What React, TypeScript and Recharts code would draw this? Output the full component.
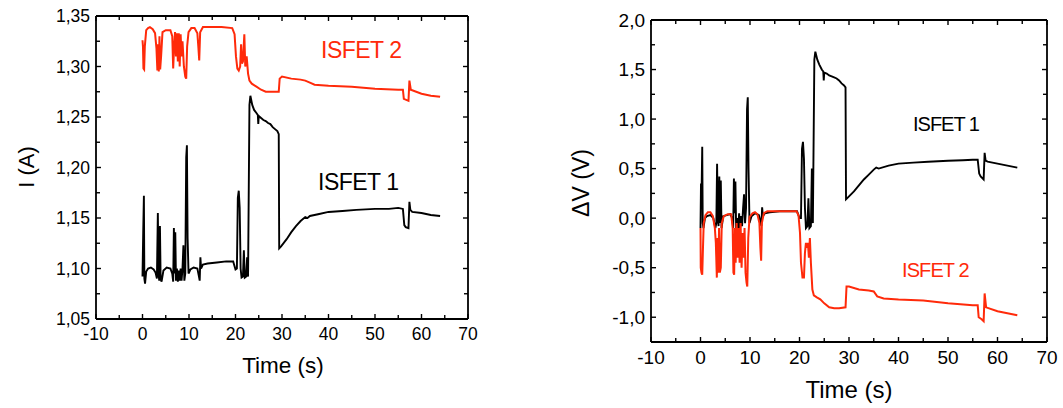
import React from 'react';
import { LineChart, Line, XAxis, YAxis } from 'recharts';

type Pt = [number, number];

const FONT = '"Liberation Sans", Arial, Helvetica, sans-serif';
const RED = '#ff2a0a';

// tick positions (minor ticks sit between the labelled ones)
const timeTicks = [-10, -5, 0, 5, 10, 15, 20, 25, 30, 35, 40, 45, 50, 55, 60, 65, 70];
const currentTicks = [1.05, 1.075, 1.1, 1.125, 1.15, 1.175, 1.2, 1.225, 1.25, 1.275, 1.3, 1.325, 1.35];
const voltageTicks = [-1.25, -1, -0.75, -0.5, -0.25, 0, 0.25, 0.5, 0.75, 1, 1.25, 1.5, 1.75, 2];

// left panel: I (A) vs time (s)
const isfet1Current: Pt[] = [
  [0, 1.092], [0.15, 1.135], [0.3, 1.172], [0.4, 1.09], [0.55, 1.085], [0.8, 1.097], [1.2, 1.1], [1.8, 1.101],
  [2.4, 1.099], [2.8, 1.096], [3.1, 1.09], [3.3, 1.155], [3.45, 1.095], [3.6, 1.088], [3.75, 1.142], [3.9, 1.09],
  [4.1, 1.087], [4.5, 1.098], [5.2, 1.101], [6.0, 1.1], [6.4, 1.095], [6.6, 1.087], [6.75, 1.14], [6.9, 1.095],
  [7.05, 1.136], [7.2, 1.088], [7.4, 1.1], [7.6, 1.087], [7.8, 1.098], [8.0, 1.088], [8.2, 1.1], [8.4, 1.088],
  [8.6, 1.1], [8.8, 1.123], [9.0, 1.088], [9.2, 1.095], [9.4, 1.21], [9.55, 1.222], [9.7, 1.13], [9.9, 1.095],
  [10.3, 1.099], [11.0, 1.101], [11.8, 1.1], [12.1, 1.093], [12.3, 1.088], [12.45, 1.111], [12.6, 1.1], [13.0, 1.104],
  [14.0, 1.105], [16.0, 1.106], [18.0, 1.107], [19.5, 1.107], [20.0, 1.099], [20.3, 1.1], [20.5, 1.17], [20.7, 1.177],
  [20.9, 1.16], [21.1, 1.1], [21.3, 1.091], [21.6, 1.092], [21.8, 1.118], [22.0, 1.091], [22.3, 1.092], [22.5, 1.111],
  [22.7, 1.092], [23.0, 1.262], [23.2, 1.271], [23.6, 1.262], [24.0, 1.257], [24.5, 1.254], [24.8, 1.252], [24.9, 1.243],
  [25.0, 1.251], [25.5, 1.249], [26.0, 1.247], [26.5, 1.246], [27.0, 1.244], [27.5, 1.243], [28.0, 1.24], [28.5, 1.238],
  [29.0, 1.236], [29.3, 1.233], [29.4, 1.12], [29.8, 1.122], [31, 1.129], [32, 1.136], [33, 1.142], [34, 1.147],
  [35, 1.151], [35.5, 1.15], [36, 1.152], [38, 1.154], [40, 1.156], [43, 1.157], [46, 1.158], [50, 1.159],
  [53, 1.159], [55, 1.16], [56, 1.159], [56.3, 1.143], [56.6, 1.141], [57.2, 1.14], [57.4, 1.166], [57.6, 1.158],
  [58, 1.156], [60, 1.155], [62, 1.153], [64, 1.152],
];

const isfet2Current: Pt[] = [
  [0, 1.326], [0.1, 1.32], [0.2, 1.298], [0.35, 1.297], [0.5, 1.32], [0.8, 1.336], [1.2, 1.338], [1.6, 1.339],
  [2.2, 1.337], [2.7, 1.333], [3.0, 1.318], [3.2, 1.296], [3.35, 1.322], [3.5, 1.295], [3.65, 1.33], [3.8, 1.297],
  [4.0, 1.31], [4.3, 1.334], [5.0, 1.336], [6.0, 1.336], [6.4, 1.33], [6.6, 1.298], [6.8, 1.32], [7.0, 1.334],
  [7.2, 1.31], [7.4, 1.333], [7.6, 1.305], [7.8, 1.333], [8.0, 1.3], [8.2, 1.332], [8.4, 1.31], [8.6, 1.325],
  [8.9, 1.3], [9.2, 1.29], [9.4, 1.288], [9.6, 1.32], [9.9, 1.334], [10.5, 1.338], [11.2, 1.338], [11.8, 1.333],
  [12.0, 1.32], [12.2, 1.306], [12.4, 1.334], [13.0, 1.339], [15, 1.339], [17, 1.339], [19.3, 1.338], [19.8, 1.332],
  [20.1, 1.31], [20.4, 1.298], [20.7, 1.296], [21.0, 1.3], [21.2, 1.322], [21.4, 1.303], [21.6, 1.305], [21.9, 1.332],
  [22.1, 1.3], [22.4, 1.31], [22.7, 1.293], [23.0, 1.286], [23.5, 1.283], [24.5, 1.28], [25.5, 1.277], [26.5, 1.275],
  [27.5, 1.275], [29.3, 1.275], [29.5, 1.288], [30, 1.29], [32, 1.288], [34, 1.287], [35, 1.286], [36, 1.284],
  [37, 1.282], [40, 1.281], [45, 1.28], [50, 1.278], [55, 1.277], [56, 1.277], [56.2, 1.268], [57.2, 1.266],
  [57.4, 1.286], [57.7, 1.277], [60, 1.273], [62, 1.271], [64, 1.27],
];

// right panel: ΔV (V) vs time (s)
const isfet1Voltage: Pt[] = [
  [0, -0.1], [0.1, 0.35], [0.2, 0.2], [0.35, 0.72], [0.45, -0.05], [0.6, -0.1], [0.9, 0.0], [1.3, 0.02],
  [2.0, 0.03], [2.6, 0.0], [3.0, -0.1], [3.2, -0.05], [3.35, 0.55], [3.5, 0.0], [3.65, -0.08], [3.8, 0.42],
  [3.95, -0.05], [4.1, 0.38], [4.25, -0.1], [4.6, 0.02], [5.3, 0.03], [6.0, 0.04], [6.4, 0.0], [6.6, -0.1],
  [6.75, 0.4], [6.9, 0.05], [7.05, 0.37], [7.2, -0.1], [7.4, 0.0], [7.6, -0.12], [7.8, 0.05], [8.0, -0.1],
  [8.2, 0.02], [8.4, -0.08], [8.6, 0.1], [8.8, 0.24], [9.0, -0.05], [9.2, 0.1], [9.4, 1.1], [9.55, 1.22],
  [9.7, 0.5], [9.9, -0.05], [10.3, 0.02], [11.0, 0.05], [11.8, 0.03], [12.1, -0.03], [12.3, -0.08], [12.45, 0.11],
  [12.6, 0.02], [13.0, 0.05], [14, 0.06], [16, 0.07], [18, 0.07], [19.5, 0.07], [20.0, 0.0], [20.3, 0.0],
  [20.5, 0.7], [20.7, 0.77], [20.9, 0.6], [21.1, 0.1], [21.3, -0.1], [21.6, -0.08], [21.8, 0.2], [22.0, -0.1],
  [22.3, -0.08], [22.5, 0.5], [22.7, -0.05], [23.0, 1.6], [23.2, 1.68], [23.6, 1.6], [24.0, 1.55], [24.5, 1.5],
  [24.8, 1.48], [24.9, 1.39], [25.0, 1.47], [25.5, 1.46], [26.0, 1.44], [26.5, 1.43], [27.0, 1.42], [27.5, 1.41],
  [28.0, 1.39], [28.5, 1.36], [29.0, 1.34], [29.3, 1.32], [29.4, 0.19], [29.8, 0.21], [31, 0.27], [32, 0.33],
  [33, 0.39], [34, 0.44], [35, 0.49], [35.5, 0.51], [36, 0.5], [38, 0.53], [40, 0.55], [43, 0.56],
  [46, 0.57], [50, 0.58], [53, 0.585], [55, 0.59], [56, 0.59], [56.3, 0.45], [56.6, 0.42], [57.2, 0.39],
  [57.4, 0.66], [57.6, 0.58], [58, 0.57], [60, 0.55], [62, 0.53], [64, 0.51],
];

const isfet2Voltage: Pt[] = [
  [0, -0.1], [0.05, -0.5], [0.2, -0.55], [0.35, -0.57], [0.5, -0.3], [0.65, -0.05], [1.0, 0.03], [1.5, 0.06],
  [2.0, 0.06], [2.5, 0.02], [2.9, -0.1], [3.1, -0.25], [3.3, -0.6], [3.45, -0.2], [3.6, -0.55], [3.75, -0.1],
  [3.9, -0.55], [4.1, -0.5], [4.3, -0.05], [4.7, 0.02], [5.5, 0.04], [6.2, 0.04], [6.5, -0.1], [6.65, -0.55],
  [6.8, -0.57], [6.95, -0.1], [7.1, -0.45], [7.3, -0.05], [7.5, -0.4], [7.7, -0.1], [7.9, -0.45], [8.1, -0.05],
  [8.3, -0.5], [8.5, -0.15], [8.7, -0.4], [8.9, -0.1], [9.1, -0.55], [9.3, -0.65], [9.45, -0.69], [9.65, -0.2],
  [9.9, 0.01], [10.5, 0.05], [11.0, 0.06], [11.5, 0.04], [11.9, -0.05], [12.1, -0.3], [12.25, -0.43], [12.4, -0.05],
  [12.8, 0.05], [13.5, 0.07], [15, 0.07], [17, 0.07], [19.4, 0.07], [19.8, 0.03], [20.1, -0.15], [20.3, -0.45],
  [20.6, -0.6], [20.9, -0.6], [21.1, -0.35], [21.3, -0.25], [21.5, -0.3], [21.7, -0.25], [21.9, -0.4], [22.1, -0.2],
  [22.3, -0.45], [22.6, -0.72], [22.9, -0.78], [23.5, -0.8], [24.2, -0.82], [25, -0.86], [26, -0.9], [27, -0.91],
  [28, -0.91], [29.3, -0.9], [29.5, -0.69], [30, -0.69], [32, -0.72], [34, -0.73], [35, -0.74], [35.7, -0.79],
  [37, -0.81], [40, -0.82], [45, -0.83], [50, -0.86], [55, -0.88], [56, -0.88], [56.2, -1.0], [56.8, -1.02],
  [57.2, -1.04], [57.4, -0.76], [57.7, -0.9], [60, -0.94], [62, -0.96], [64, -0.98],
];

const toRows = (pts: Pt[]) => pts.map(([t, v]) => ({ t, v }));

const isTimeMajor = (v: number) => v % 10 === 0;
const isCurrentMajor = (v: number) => Math.abs(v * 20 - Math.round(v * 20)) < 1e-6;
const isVoltageMajor = (v: number) => Math.abs(v * 2 - Math.round(v * 2)) < 1e-6;
const fmtTime = (v: number) => String(v);
const fmtCurrent = (v: number) => v.toFixed(2).replace('.', ',');
const fmtVoltage = (v: number) => v.toFixed(1).replace('.', ',');

type Side = 'left' | 'right' | 'top' | 'bottom';

// inward Origin-style ticks; labels only on the left/bottom axes
function frameTick(
  side: Side,
  isMajor: (v: number) => boolean,
  fmt: ((v: number) => string) | null,
  fontSize: number,
  gap: number,
) {
  return (props: any) => {
    const { x, y, payload } = props;
    const v = payload.value as number;
    const major = isMajor(v);
    const len = major ? 5 : 4;
    const dx = side === 'left' ? len : side === 'right' ? -len : 0;
    const dy = side === 'bottom' ? -len : side === 'top' ? len : 0;
    let label = null;
    if (fmt && major) {
      label =
        side === 'left' ? (
          <text x={x - gap} y={y} textAnchor="end" dominantBaseline="central" fontSize={fontSize} fontFamily={FONT} fill="#000">
            {fmt(v)}
          </text>
        ) : (
          <text x={x} y={y + gap} textAnchor="middle" dominantBaseline="central" fontSize={fontSize} fontFamily={FONT} fill="#000">
            {fmt(v)}
          </text>
        );
    }
    return (
      <g>
        <line x1={x} y1={y} x2={x + dx} y2={y + dy} stroke="#000" strokeWidth={1.4} />
        {label}
      </g>
    );
  };
}

const axisLine = { stroke: '#000', strokeWidth: 1.8 };

type PanelProps = {
  width: number;
  height: number;
  margin: { top: number; right: number; bottom: number; left: number };
  leftW: number;
  rightW: number;
  topH: number;
  bottomH: number;
  yDomain: [number, number];
  yTicks: number[];
  yMajor: (v: number) => boolean;
  yFmt: (v: number) => string;
  fontSize: number;
  blackSeries: Pt[];
  redSeries: Pt[];
};

function Panel(p: PanelProps) {
  return (
    <LineChart width={p.width} height={p.height} margin={p.margin}>
      <XAxis
        xAxisId="b"
        type="number"
        dataKey="t"
        orientation="bottom"
        domain={[-10, 70]}
        ticks={timeTicks}
        interval={0}
        allowDataOverflow
        height={p.bottomH}
        tickSize={0}
        tickMargin={0}
        tickLine={false}
        axisLine={axisLine}
        tick={frameTick('bottom', isTimeMajor, fmtTime, p.fontSize, 15)}
      />
      <XAxis
        xAxisId="t"
        type="number"
        dataKey="t"
        orientation="top"
        domain={[-10, 70]}
        ticks={timeTicks}
        interval={0}
        allowDataOverflow
        height={p.topH}
        tickSize={0}
        tickMargin={0}
        tickLine={false}
        axisLine={axisLine}
        tick={frameTick('top', isTimeMajor, null, p.fontSize, 0)}
      />
      <YAxis
        yAxisId="l"
        type="number"
        orientation="left"
        domain={p.yDomain}
        ticks={p.yTicks}
        interval={0}
        allowDataOverflow
        width={p.leftW}
        tickSize={0}
        tickMargin={0}
        tickLine={false}
        axisLine={axisLine}
        tick={frameTick('left', p.yMajor, p.yFmt, p.fontSize, 6)}
      />
      <YAxis
        yAxisId="r"
        type="number"
        orientation="right"
        domain={p.yDomain}
        ticks={p.yTicks}
        interval={0}
        allowDataOverflow
        width={p.rightW}
        tickSize={0}
        tickMargin={0}
        tickLine={false}
        axisLine={axisLine}
        tick={frameTick('right', p.yMajor, null, p.fontSize, 0)}
      />
      <Line
        xAxisId="b"
        yAxisId="l"
        data={toRows(p.blackSeries)}
        dataKey="v"
        type="linear"
        stroke="#000"
        strokeWidth={1.9}
        dot={false}
        isAnimationActive={false}
      />
      <Line
        xAxisId="b"
        yAxisId="l"
        data={toRows(p.redSeries)}
        dataKey="v"
        type="linear"
        stroke={RED}
        strokeWidth={2}
        dot={false}
        isAnimationActive={false}
      />
      <Line
        xAxisId="t"
        yAxisId="r"
        data={toRows(p.blackSeries)}
        dataKey="v"
        stroke="none"
        dot={false}
        isAnimationActive={false}
        legendType="none"
      />
    </LineChart>
  );
}

export default function App() {
  return (
    <div style={{ position: 'absolute', left: 0, top: 0, width: 1063, height: 408, background: '#fff', overflow: 'hidden' }}>
      <div style={{ position: 'absolute', left: 0, top: 0 }}>
        <Panel
          width={480}
          height={408}
          margin={{ top: 6, right: 0, bottom: 0, left: 0 }}
          leftW={96}
          rightW={12}
          topH={10}
          bottomH={89}
          yDomain={[1.05, 1.35]}
          yTicks={currentTicks}
          yMajor={isCurrentMajor}
          yFmt={fmtCurrent}
          fontSize={17.5}
          blackSeries={isfet1Current}
          redSeries={isfet2Current}
        />
      </div>
      <div style={{ position: 'absolute', left: 540, top: 0 }}>
        <Panel
          width={523}
          height={408}
          margin={{ top: 10, right: 0, bottom: 0, left: 0 }}
          leftW={111}
          rightW={16}
          topH={10}
          bottomH={66}
          yDomain={[-1.25, 2]}
          yTicks={voltageTicks}
          yMajor={isVoltageMajor}
          yFmt={fmtVoltage}
          fontSize={19}
          blackSeries={isfet1Voltage}
          redSeries={isfet2Voltage}
        />
      </div>
      <svg width={1063} height={408} style={{ position: 'absolute', left: 0, top: 0, pointerEvents: 'none' }} fontFamily={FONT}>
        <text x={283} y={373} fontSize={22.5} textAnchor="middle" fill="#000">Time (s)</text>
        <text x={849} y={398} fontSize={24} textAnchor="middle" fill="#000">Time (s)</text>
        <text transform="translate(34,167) rotate(-90)" fontSize={22} textAnchor="middle" fill="#000">I (A)</text>
        <text transform="translate(589,183) rotate(-90)" fontSize={23} textAnchor="middle" fill="#000">ΔV (V)</text>
        <text x={321} y={58} fontSize={23} letterSpacing={-0.5} fill={RED}>ISFET 2</text>
        <text x={318} y={190} fontSize={23} letterSpacing={-0.5} fill="#000">ISFET 1</text>
        <text x={913} y={131} fontSize={20} letterSpacing={-1} fill="#000">ISFET 1</text>
        <text x={902} y={277} fontSize={20} letterSpacing={-0.9} fill={RED}>ISFET 2</text>
      </svg>
    </div>
  );
}
